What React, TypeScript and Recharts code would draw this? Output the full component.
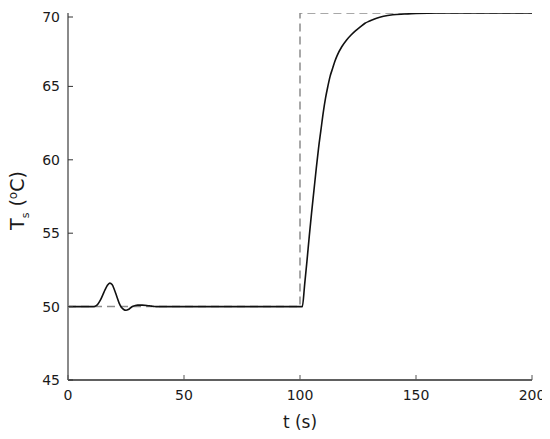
import React from 'react';
import { LineChart, Line, XAxis, YAxis, Label } from 'recharts';

const respTime = [0, 11, 12, 13, 14, 15, 16, 17, 18, 19, 20, 21, 22, 23, 24, 25, 26, 27, 28, 29, 30, 32, 34, 36, 38, 100, 101, 102, 103, 104, 105, 106, 107, 108, 109, 110, 111, 112, 113, 114, 115, 116, 118, 120, 122, 124, 126, 128, 130, 133, 136, 140, 145, 150, 160, 200];
const respTemp = [50, 50, 50.05, 50.2, 50.45, 50.8, 51.15, 51.45, 51.6, 51.5, 51.15, 50.7, 50.25, 49.95, 49.8, 49.75, 49.8, 49.92, 50.02, 50.08, 50.1, 50.1, 50.08, 50.03, 50, 50, 50, 51.5, 53.1, 54.8, 56.4, 57.9, 59.4, 60.8, 62.0, 63.2, 64.2, 65.0, 65.7, 66.2, 66.7, 67.1, 67.7, 68.15, 68.5, 68.8, 69.05, 69.3, 69.45, 69.65, 69.78, 69.88, 69.93, 69.97, 70, 70];

const spTime = [0, 100, 100, 200];
const spTemp = [50, 50, 70, 70];

const xTicks = [0, 50, 100, 150, 200];
const yTicks = [45, 50, 55, 60, 65, 70];

const respData = respTime.map((t, i) => ({ t, v: respTemp[i] }));
const spData = spTime.map((t, i) => ({ t, v: spTemp[i] }));

const FONT = 'DejaVu Sans, Verdana, sans-serif';

const YTick = (props: any) => {
  const { x, y, payload } = props;
  return (
    <g>
      <line x1={x} x2={x + 5} y1={y} y2={y} stroke="#333" strokeWidth={1} />
      <text x={x - 8} y={y} dy={5} textAnchor="end" fontSize={14} fontFamily={FONT} fill="#1a1a1a">
        {payload.value}
      </text>
    </g>
  );
};

const XTick = (props: any) => {
  const { x, y, payload } = props;
  return (
    <g>
      <line x1={x} x2={x} y1={y} y2={y - 5} stroke="#555" strokeWidth={1} />
      <text x={x} y={y + 20} textAnchor="middle" fontSize={14} fontFamily={FONT} fill="#1a1a1a">
        {payload.value}
      </text>
    </g>
  );
};

const XLabel = (props: any) => {
  const vb = props.viewBox || {};
  const cx = vb.x + vb.width / 2;
  return (
    <text x={cx} y={vb.y + 48} textAnchor="middle" fontSize={17} fontFamily={FONT} fill="#1a1a1a">
      t (s)
    </text>
  );
};

const YLabel = (props: any) => {
  const vb = props.viewBox || {};
  const cx = vb.x + 16;
  const cy = vb.y + vb.height / 2 + 4;
  return (
    <text
      x={cx}
      y={cy}
      textAnchor="middle"
      fontSize={19}
      fontFamily={FONT}
      fill="#1a1a1a"
      transform={`rotate(-90 ${cx} ${cy})`}
    >
      <tspan>T</tspan>
      <tspan fontSize={11} dy={5}>s</tspan>
      <tspan dy={-5} dx={6}>(</tspan>
      <tspan fontSize={12} dy={-7}>o</tspan>
      <tspan dy={7}>C)</tspan>
    </text>
  );
};

export default function App() {
  return (
    <LineChart
      width={542}
      height={431}
      margin={{ top: 5, right: 18, bottom: 0, left: 0 }}
      style={{ overflow: 'visible' }}
    >
      <XAxis
        dataKey="t"
        type="number"
        domain={[0, 200]}
        ticks={xTicks}
        allowDataOverflow
        height={59}
        tickSize={0}
        tickMargin={0}
        tick={<XTick />}
        axisLine={{ stroke: '#2b2b2b', strokeWidth: 1.5 }}
        tickLine={false}
      >
        <Label content={<XLabel />} />
      </XAxis>
      <YAxis
        dataKey="v"
        type="number"
        domain={[45, 70]}
        ticks={yTicks}
        allowDataOverflow
        width={60}
        tickSize={0}
        tickMargin={0}
        tick={<YTick />}
        axisLine={{ stroke: '#8a8a8a', strokeWidth: 2 }}
        tickLine={false}
      >
        <Label content={<YLabel />} />
      </YAxis>
      <Line
        data={spData}
        dataKey="v"
        type="linear"
        stroke="#8c8c8c"
        strokeWidth={1.5}
        strokeDasharray="8 5"
        dot={false}
        isAnimationActive={false}
      />
      <Line
        data={respData}
        dataKey="v"
        type="monotone"
        stroke="#111"
        strokeWidth={1.6}
        dot={false}
        isAnimationActive={false}
      />
    </LineChart>
  );
}
